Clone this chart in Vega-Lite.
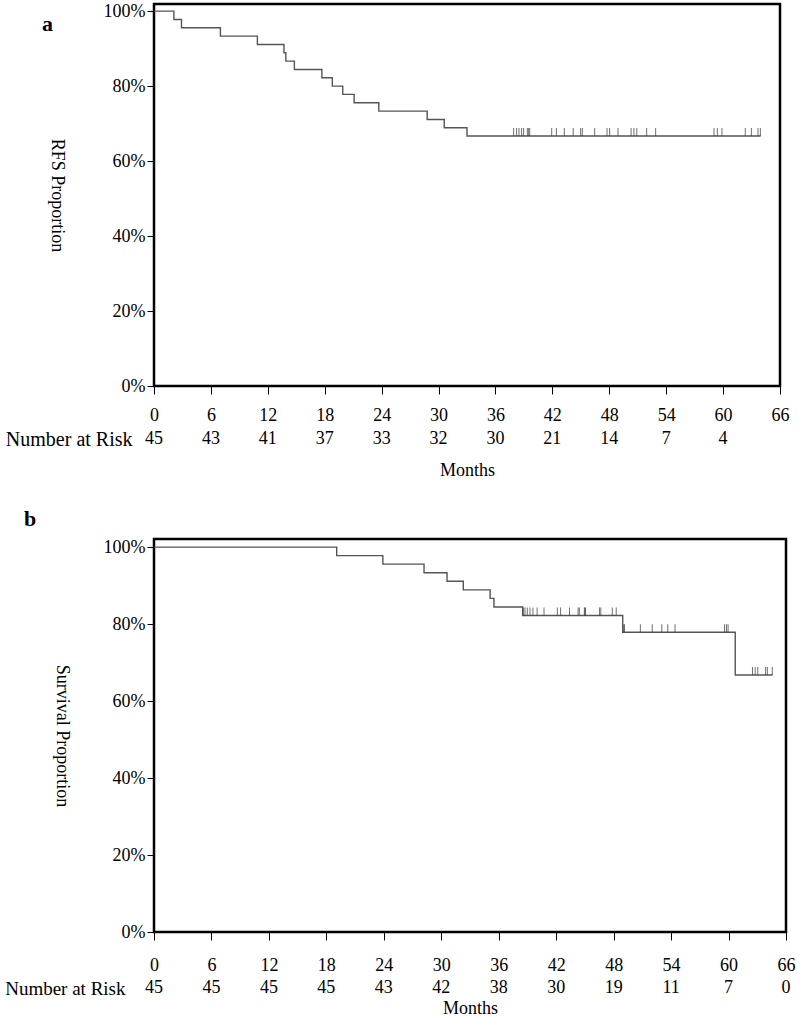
{
  "$schema": "https://vega.github.io/schema/vega-lite/v6.json",
  "padding": {"left": 4, "top": 0, "right": 0, "bottom": 0},
  "background": "white",
  "config": {
    "font": "Liberation Serif",
    "view": {"stroke": null},
    "axis": {
      "labelFont": "Liberation Serif", "titleFont": "Liberation Serif",
      "labelColor": "black", "titleColor": "black", "tickColor": "black", "domainColor": "black",
      "titleFontWeight": "normal", "grid": false, "labelFontSize": 18, "titleFontSize": 18
    },
    "text": {"font": "Liberation Serif", "fontSize": 18, "color": "black"}
  },
  "datasets": {
    "curveA": [
      {"t": 0, "s": 1}, {"t": 2.1, "s": 0.9778}, {"t": 2.9, "s": 0.9556}, {"t": 7.0, "s": 0.9333},
      {"t": 10.9, "s": 0.9111}, {"t": 13.7, "s": 0.8889}, {"t": 13.9, "s": 0.8667}, {"t": 14.8, "s": 0.8444},
      {"t": 17.7, "s": 0.8222}, {"t": 18.8, "s": 0.8}, {"t": 19.9, "s": 0.7778}, {"t": 21.1, "s": 0.7556},
      {"t": 23.7, "s": 0.7333}, {"t": 28.8, "s": 0.7111}, {"t": 30.6, "s": 0.6889}, {"t": 33.0, "s": 0.6667},
      {"t": 63.95, "s": 0.6667}
    ],
    "censorA": [
      {"t": 37.92, "s": 0.6667}, {"t": 38.23, "s": 0.6667}, {"t": 38.48, "s": 0.6667}, {"t": 38.76, "s": 0.6667},
      {"t": 38.97, "s": 0.6667}, {"t": 39.36, "s": 0.6667}, {"t": 39.5, "s": 0.6667}, {"t": 39.61, "s": 0.6667},
      {"t": 41.93, "s": 0.6667}, {"t": 42.42, "s": 0.6667}, {"t": 43.26, "s": 0.6667}, {"t": 44.2, "s": 0.6667},
      {"t": 44.98, "s": 0.6667}, {"t": 45.16, "s": 0.6667}, {"t": 46.46, "s": 0.6667}, {"t": 47.76, "s": 0.6667},
      {"t": 48.04, "s": 0.6667}, {"t": 48.92, "s": 0.6667}, {"t": 50.3, "s": 0.6667}, {"t": 50.6, "s": 0.6667},
      {"t": 50.9, "s": 0.6667}, {"t": 51.94, "s": 0.6667}, {"t": 52.89, "s": 0.6667}, {"t": 59.04, "s": 0.6667},
      {"t": 59.39, "s": 0.6667}, {"t": 59.88, "s": 0.6667}, {"t": 62.34, "s": 0.6667}, {"t": 62.98, "s": 0.6667},
      {"t": 63.68, "s": 0.6667}, {"t": 63.93, "s": 0.6667}
    ],
    "riskA": [
      {"row": "Number at Risk", "t": 0, "n": 45}, {"row": "Number at Risk", "t": 6, "n": 43},
      {"row": "Number at Risk", "t": 12, "n": 41}, {"row": "Number at Risk", "t": 18, "n": 37},
      {"row": "Number at Risk", "t": 24, "n": 33}, {"row": "Number at Risk", "t": 30, "n": 32},
      {"row": "Number at Risk", "t": 36, "n": 30}, {"row": "Number at Risk", "t": 42, "n": 21},
      {"row": "Number at Risk", "t": 48, "n": 14}, {"row": "Number at Risk", "t": 54, "n": 7},
      {"row": "Number at Risk", "t": 60, "n": 4}
    ],
    "curveB": [
      {"t": 0, "s": 1}, {"t": 19.08, "s": 0.9778}, {"t": 23.9, "s": 0.9556}, {"t": 28.2, "s": 0.9333},
      {"t": 30.6, "s": 0.9111}, {"t": 32.3, "s": 0.8889}, {"t": 35.1, "s": 0.8667}, {"t": 35.5, "s": 0.8444},
      {"t": 38.5, "s": 0.8222}, {"t": 48.95, "s": 0.7789}, {"t": 60.7, "s": 0.6677}, {"t": 64.6, "s": 0.6677}
    ],
    "censorB": [
      {"t": 38.56, "s": 0.8222}, {"t": 38.74, "s": 0.8222}, {"t": 38.98, "s": 0.8222}, {"t": 39.26, "s": 0.8222},
      {"t": 39.57, "s": 0.8222}, {"t": 40.01, "s": 0.8222}, {"t": 40.73, "s": 0.8222}, {"t": 42.12, "s": 0.8222},
      {"t": 42.46, "s": 0.8222}, {"t": 43.39, "s": 0.8222}, {"t": 44.29, "s": 0.8222}, {"t": 44.42, "s": 0.8222},
      {"t": 44.94, "s": 0.8222}, {"t": 45.0, "s": 0.8222}, {"t": 45.07, "s": 0.8222}, {"t": 46.52, "s": 0.8222},
      {"t": 46.66, "s": 0.8222}, {"t": 47.86, "s": 0.8222}, {"t": 48.27, "s": 0.8222},
      {"t": 49.07, "s": 0.7789}, {"t": 49.12, "s": 0.7789}, {"t": 50.79, "s": 0.7789}, {"t": 52.03, "s": 0.7789},
      {"t": 53.03, "s": 0.7789}, {"t": 53.65, "s": 0.7789}, {"t": 54.41, "s": 0.7789}, {"t": 59.58, "s": 0.7789},
      {"t": 59.78, "s": 0.7789}, {"t": 59.95, "s": 0.7789},
      {"t": 62.5, "s": 0.6677}, {"t": 62.78, "s": 0.6677}, {"t": 63.05, "s": 0.6677}, {"t": 63.87, "s": 0.6677},
      {"t": 64.05, "s": 0.6677}, {"t": 64.57, "s": 0.6677}
    ],
    "riskB": [
      {"row": "Number at Risk", "t": 0, "n": 45}, {"row": "Number at Risk", "t": 6, "n": 45},
      {"row": "Number at Risk", "t": 12, "n": 45}, {"row": "Number at Risk", "t": 18, "n": 45},
      {"row": "Number at Risk", "t": 24, "n": 43}, {"row": "Number at Risk", "t": 30, "n": 42},
      {"row": "Number at Risk", "t": 36, "n": 38}, {"row": "Number at Risk", "t": 42, "n": 30},
      {"row": "Number at Risk", "t": 48, "n": 19}, {"row": "Number at Risk", "t": 54, "n": 11},
      {"row": "Number at Risk", "t": 60, "n": 7}, {"row": "Number at Risk", "t": 66, "n": 0}
    ]
  },
  "concat": [
    {
      "spacing": 3,
      "vconcat": [
        {
          "width": 626, "height": 382,
          "title": {"text": "a", "anchor": "start", "frame": "bounds", "offset": -51, "baseline": "alphabetic", "fontSize": 22, "fontWeight": "bold", "font": "Liberation Serif", "color": "black", "dx": -5},
          "view": {"stroke": "black", "strokeWidth": 2.5},
          "layer": [
            {
              "data": {"name": "curveA"},
              "mark": {"type": "line", "interpolate": "step-after", "color": "#555555", "strokeWidth": 1.4},
              "encoding": {
                "x": {"field": "t", "type": "quantitative", "scale": {"domain": [0, 66], "nice": false},
                  "axis": {"values": [0, 6, 12, 18, 24, 30, 36, 42, 48, 54, 60, 66], "title": null, "domain": false, "tickSize": 8, "labelPadding": 12, "labelFlush": false, "labelOverlap": false}},
                "y": {"field": "s", "type": "quantitative", "scale": {"domain": [0, 1.019], "nice": false},
                  "axis": {"values": [0, 0.2, 0.4, 0.6, 0.8, 1], "format": ".0%", "title": "RFS Proportion", "titleAngle": 90, "titleBaseline": "top", "titlePadding": 38, "domain": false, "tickSize": 7, "labelPadding": 2, "labelFlush": false, "labelOverlap": false}}
              }
            },
            {
              "data": {"name": "censorA"},
              "mark": {"type": "tick", "orient": "vertical", "size": 8, "thickness": 1, "yOffset": -4, "color": "#333333"},
              "encoding": {
                "x": {"field": "t", "type": "quantitative"},
                "y": {"field": "s", "type": "quantitative"}
              }
            }
          ]
        },
        {
          "width": 626, "height": 20,
          "data": {"name": "riskA"},
          "mark": {"type": "text", "fontSize": 18},
          "encoding": {
            "x": {"field": "t", "type": "quantitative", "scale": {"domain": [0, 66], "nice": false},
              "axis": {"title": "Months", "labels": false, "ticks": false, "domain": false, "titlePadding": 12}},
            "y": {"field": "row", "type": "nominal", "axis": {"title": null, "ticks": false, "domain": false, "labelPadding": 22, "labelFontSize": 20}},
            "text": {"field": "n", "type": "quantitative"}
          }
        }
      ]
    },
    {
      "spacing": 2,
      "vconcat": [
        {
          "width": 632, "height": 393,
          "title": {"text": "b", "anchor": "start", "frame": "bounds", "offset": -10, "baseline": "alphabetic", "fontSize": 22, "fontWeight": "bold", "font": "Liberation Serif", "color": "black", "dx": -28},
          "view": {"stroke": "black", "strokeWidth": 2.5},
          "layer": [
            {
              "data": {"name": "curveB"},
              "mark": {"type": "line", "interpolate": "step-after", "color": "#555555", "strokeWidth": 1.4},
              "encoding": {
                "x": {"field": "t", "type": "quantitative", "scale": {"domain": [0, 66], "nice": false},
                  "axis": {"values": [0, 6, 12, 18, 24, 30, 36, 42, 48, 54, 60, 66], "title": null, "domain": false, "tickSize": 8, "labelPadding": 16, "labelFlush": false, "labelOverlap": false}},
                "y": {"field": "s", "type": "quantitative", "scale": {"domain": [0, 1.021], "nice": false},
                  "axis": {"values": [0, 0.2, 0.4, 0.6, 0.8, 1], "format": ".0%", "title": "Survival Proportion", "titleAngle": 90, "titleBaseline": "top", "titlePadding": 33, "domain": false, "tickSize": 7, "labelPadding": 2, "labelFlush": false, "labelOverlap": false}}
              }
            },
            {
              "data": {"name": "censorB"},
              "mark": {"type": "tick", "orient": "vertical", "size": 8, "thickness": 1, "yOffset": -4, "color": "#333333"},
              "encoding": {
                "x": {"field": "t", "type": "quantitative"},
                "y": {"field": "s", "type": "quantitative"}
              }
            }
          ]
        },
        {
          "width": 632, "height": 20,
          "data": {"name": "riskB"},
          "mark": {"type": "text", "fontSize": 18},
          "encoding": {
            "x": {"field": "t", "type": "quantitative", "scale": {"domain": [0, 66], "nice": false},
              "axis": {"title": "Months", "labels": false, "ticks": false, "domain": false, "titlePadding": 1}},
            "y": {"field": "row", "type": "nominal", "axis": {"title": null, "ticks": false, "domain": false, "labelPadding": 29, "labelFontSize": 19}},
            "text": {"field": "n", "type": "quantitative"}
          }
        }
      ]
    }
  ],
  "columns": 1,
  "align": "none",
  "spacing": 27
}
